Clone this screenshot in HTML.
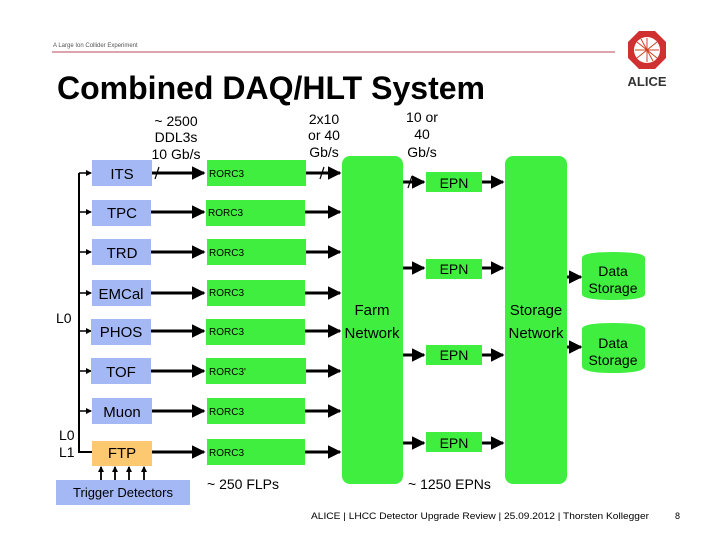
<!DOCTYPE html>
<html><head><meta charset="utf-8"><style>
html,body{margin:0;padding:0;background:#fff;}
svg{display:block;font-family:"Liberation Sans",sans-serif;}
</style></head><body>
<svg width="720" height="540" viewBox="0 0 720 540" xmlns="http://www.w3.org/2000/svg">
<defs>
<marker id="a" markerWidth="4.5" markerHeight="4.5" refX="4" refY="2.25" orient="auto" markerUnits="strokeWidth"><path d="M0,0 L4.5,2.25 L0,4.5 Z" fill="#000"/></marker>
<marker id="s" markerWidth="6" markerHeight="6" refX="5" refY="3" orient="auto" markerUnits="userSpaceOnUse"><path d="M0,0 L6,3 L0,6 Z" fill="#000"/></marker>
</defs>
<text x="53" y="47" font-size="6" fill="#555">A Large Ion Collider Experiment</text>
<line x1="52" y1="52" x2="615" y2="52" stroke="#b84a5a" stroke-width="1"/>
<polygon points="639,31 655,31 666,42 666,58 655,69 639,69 628,58 628,42" fill="#d03030"/>
<circle cx="647" cy="50" r="13" fill="#fff"/>
<g stroke="#d04020" stroke-width="1">
<line x1="637" y1="42" x2="657" y2="58"/><line x1="637" y1="58" x2="657" y2="42"/><line x1="647" y1="38" x2="647" y2="62"/><line x1="635" y1="50" x2="659" y2="50"/><line x1="641" y1="39" x2="653" y2="61"/></g>
<text x="647" y="86" font-size="13" font-weight="bold" text-anchor="middle" fill="#333">ALICE</text>
<text x="57" y="99" font-size="32" font-weight="bold" fill="#000" textLength="428" lengthAdjust="spacingAndGlyphs">Combined DAQ/HLT System</text>
<g font-size="14" text-anchor="middle" fill="#000">
<text x="176" y="126">~ 2500</text><text x="176" y="142">DDL3s</text><text x="176" y="159">10 Gb/s</text>
<text x="324" y="124">2x10</text><text x="324" y="140">or 40</text><text x="324" y="157">Gb/s</text>
<text x="422" y="122">10 or</text><text x="422" y="139">40</text><text x="422" y="157">Gb/s</text>
</g>
<g stroke="#000" stroke-width="2" fill="none"><path d="M79,173 V452 H92"/></g>
<g stroke="#000" stroke-width="1.5">
<line x1="79" y1="173" x2="91" y2="173" marker-end="url(#s)"/>
<line x1="79" y1="212" x2="91" y2="212" marker-end="url(#s)"/>
<line x1="79" y1="252" x2="91" y2="252" marker-end="url(#s)"/>
<line x1="79" y1="293" x2="91" y2="293" marker-end="url(#s)"/>
<line x1="79" y1="331" x2="91" y2="331" marker-end="url(#s)"/>
<line x1="79" y1="371" x2="91" y2="371" marker-end="url(#s)"/>
<line x1="79" y1="411" x2="91" y2="411" marker-end="url(#s)"/>
</g>
<g font-size="14" fill="#000"><text x="56" y="323">L0</text><text x="59" y="440">L0</text><text x="59" y="457">L1</text></g>
<g fill="#a4b8f6">
<rect x="92" y="160" width="60" height="26"/><rect x="92" y="200" width="59" height="26"/><rect x="92" y="239" width="59" height="26"/>
<rect x="92" y="280" width="59" height="26"/><rect x="91" y="319" width="60" height="26"/><rect x="91" y="358" width="60" height="26"/>
<rect x="92" y="398" width="60" height="26"/><rect x="56" y="480" width="134" height="25"/>
</g>
<rect x="92" y="441" width="60" height="25" fill="#fcc870"/>
<g font-size="15" text-anchor="middle" fill="#000">
<text x="122" y="179">ITS</text><text x="122" y="218">TPC</text><text x="122" y="258">TRD</text><text x="121" y="299">EMCal</text>
<text x="121" y="337">PHOS</text><text x="121" y="377">TOF</text><text x="122" y="417">Muon</text><text x="122" y="458">FTP</text>
<text x="123" y="497" font-size="13">Trigger Detectors</text>
</g>
<g stroke="#000" stroke-width="1.8">
<line x1="101" y1="480" x2="101" y2="467" marker-end="url(#s)"/><line x1="115" y1="480" x2="115" y2="467" marker-end="url(#s)"/>
<line x1="129" y1="480" x2="129" y2="467" marker-end="url(#s)"/><line x1="144" y1="480" x2="144" y2="467" marker-end="url(#s)"/>
</g>
<g fill="#40ee40">
<rect x="207" y="160" width="99" height="26"/><rect x="206" y="200" width="99" height="26"/><rect x="207" y="239" width="99" height="26"/>
<rect x="207" y="280" width="98" height="26"/><rect x="206" y="319" width="99" height="26"/><rect x="206" y="358" width="100" height="26"/>
<rect x="207" y="398" width="98" height="26"/><rect x="207" y="439" width="98" height="26"/>
</g>
<g font-size="10" fill="#000">
<text x="209" y="177">RORC3</text><text x="208" y="216">RORC3</text><text x="209" y="256">RORC3</text><text x="209" y="296">RORC3</text>
<text x="209" y="335">RORC3</text><text x="209" y="375">RORC3'</text><text x="209" y="415">RORC3</text><text x="209" y="456">RORC3</text>
</g>
<g stroke="#000" stroke-width="3">
<line x1="152" y1="173" x2="204" y2="173" marker-end="url(#a)"/><line x1="151" y1="212" x2="204" y2="212" marker-end="url(#a)"/>
<line x1="151" y1="252" x2="204" y2="252" marker-end="url(#a)"/><line x1="151" y1="293" x2="204" y2="293" marker-end="url(#a)"/>
<line x1="151" y1="331" x2="204" y2="331" marker-end="url(#a)"/><line x1="151" y1="371" x2="204" y2="371" marker-end="url(#a)"/>
<line x1="152" y1="411" x2="204" y2="411" marker-end="url(#a)"/><line x1="152" y1="452" x2="204" y2="452" marker-end="url(#a)"/>
<line x1="306" y1="173" x2="340" y2="173" marker-end="url(#a)"/><line x1="305" y1="212" x2="340" y2="212" marker-end="url(#a)"/>
<line x1="306" y1="252" x2="340" y2="252" marker-end="url(#a)"/><line x1="305" y1="293" x2="340" y2="293" marker-end="url(#a)"/>
<line x1="305" y1="331" x2="340" y2="331" marker-end="url(#a)"/><line x1="306" y1="371" x2="340" y2="371" marker-end="url(#a)"/>
<line x1="305" y1="411" x2="340" y2="411" marker-end="url(#a)"/><line x1="305" y1="452" x2="340" y2="452" marker-end="url(#a)"/>
</g>
<g stroke="#000" stroke-width="1.2"><line x1="155" y1="179" x2="159" y2="167"/><line x1="320" y1="179" x2="324" y2="167"/><line x1="408" y1="188" x2="412" y2="176"/></g>
<rect x="342" y="156" width="61" height="328" rx="8" fill="#40ee40"/>
<rect x="505" y="156" width="62" height="328" rx="8" fill="#40ee40"/>
<g font-size="15" text-anchor="middle" fill="#000">
<text x="372" y="315">Farm</text><text x="372" y="338">Network</text>
<text x="536" y="315">Storage</text><text x="536" y="338">Network</text>
</g>
<g fill="#40ee40">
<rect x="426" y="172" width="56" height="20"/><rect x="426" y="259" width="56" height="20"/>
<rect x="426" y="345" width="56" height="20"/><rect x="426" y="432" width="56" height="20"/>
</g>
<g font-size="14" text-anchor="middle" fill="#000">
<text x="454" y="188">EPN</text><text x="454" y="274">EPN</text><text x="454" y="360">EPN</text><text x="454" y="448">EPN</text>
</g>
<g stroke="#000" stroke-width="3">
<line x1="403" y1="182" x2="424" y2="182" marker-end="url(#a)"/><line x1="403" y1="268" x2="424" y2="268" marker-end="url(#a)"/>
<line x1="403" y1="355" x2="424" y2="355" marker-end="url(#a)"/><line x1="403" y1="443" x2="424" y2="443" marker-end="url(#a)"/>
<line x1="482" y1="182" x2="503" y2="182" marker-end="url(#a)"/><line x1="482" y1="268" x2="503" y2="268" marker-end="url(#a)"/>
<line x1="482" y1="355" x2="503" y2="355" marker-end="url(#a)"/><line x1="482" y1="443" x2="503" y2="443" marker-end="url(#a)"/>
<line x1="567" y1="277" x2="581" y2="277" marker-end="url(#a)"/><line x1="567" y1="347" x2="581" y2="347" marker-end="url(#a)"/>
</g>
<g fill="#40ee40">
<path d="M582,258 Q582,252 613,252 Q645,252 645,258 V294 Q645,300 613,300 Q582,300 582,294 Z"/>
<path d="M582,329 Q582,323 613,323 Q645,323 645,329 V366 Q645,373 613,373 Q582,373 582,366 Z"/>
</g>
<g font-size="14" text-anchor="middle" fill="#000">
<text x="613" y="276">Data</text><text x="613" y="293">Storage</text>
<text x="613" y="348">Data</text><text x="613" y="365">Storage</text>
</g>
<g font-size="14" fill="#000"><text x="207" y="489">~ 250 FLPs</text><text x="408" y="489">~ 1250 EPNs</text></g>
<text x="311" y="519" font-size="9.5" fill="#000" textLength="338" lengthAdjust="spacingAndGlyphs">ALICE |  LHCC Detector Upgrade Review | 25.09.2012 | Thorsten Kollegger</text>
<text x="675" y="519" font-size="9" fill="#000">8</text>
</svg>
</body></html>
